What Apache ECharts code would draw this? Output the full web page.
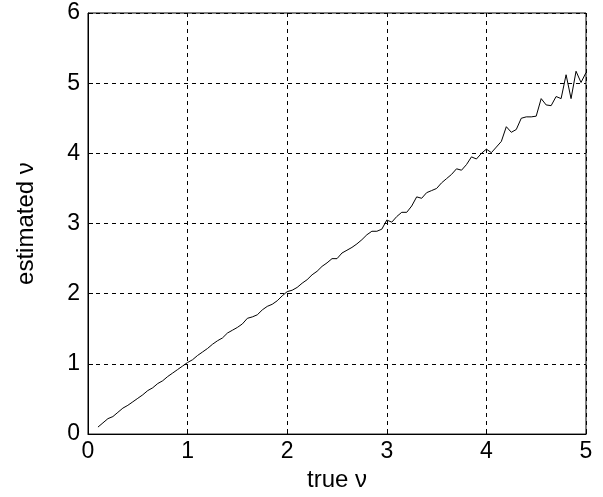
<!DOCTYPE html>
<html>
<head>
<meta charset="utf-8">
<script src="https://cdn.jsdelivr.net/npm/echarts@6/dist/echarts.min.js"></script>
<style>html,body{margin:0;padding:0;background:#fff;}#c{width:603px;height:497px;}</style>
</head>
<body>
<div id="c"></div>
<script>
var trueNu = [0.10,0.15,0.20,0.25,0.30,0.35,0.40,0.45,0.50,0.55,0.60,0.65,0.70,0.75,0.80,0.85,0.90,0.95,
  1.00,1.05,1.10,1.15,1.20,1.25,1.30,1.35,1.40,1.45,1.50,1.55,1.60,1.65,1.70,1.75,1.80,1.85,1.90,1.95,
  2.00,2.05,2.10,2.15,2.20,2.25,2.30,2.35,2.40,2.45,2.50,2.55,2.60,2.65,2.70,2.75,2.80,2.85,2.90,2.95,
  3.00,3.05,3.10,3.15,3.20,3.25,3.30,3.35,3.40,3.45,3.50,3.55,3.60,3.65,3.70,3.75,3.80,3.85,3.90,3.95,
  4.00,4.05,4.10,4.15,4.20,4.25,4.30,4.35,4.40,4.45,4.50,4.55,4.60,4.65,4.70,4.75,4.80,4.85,4.90,4.95,5.00];
var estimatedNu = [0.10,0.16,0.22,0.25,0.31,0.37,0.41,0.46,0.51,0.56,0.62,0.66,0.72,0.76,0.82,0.87,0.92,0.97,
  1.02,1.06,1.12,1.17,1.22,1.28,1.33,1.37,1.44,1.48,1.52,1.57,1.65,1.67,1.70,1.77,1.82,1.85,1.90,1.97,
  2.03,2.05,2.09,2.15,2.20,2.27,2.32,2.39,2.44,2.50,2.50,2.58,2.62,2.66,2.71,2.77,2.84,2.89,2.89,2.92,
  3.05,3.02,3.10,3.16,3.16,3.25,3.38,3.36,3.44,3.47,3.50,3.58,3.64,3.70,3.78,3.76,3.84,3.95,3.92,4.00,
  4.06,4.01,4.09,4.17,4.38,4.30,4.34,4.50,4.52,4.52,4.53,4.78,4.69,4.68,4.81,4.78,5.12,4.78,5.17,5.01,5.15];
var xTicks = [0,1,2,3,4,5];
var yTicks = [0,1,2,3,4,5,6];
var xLabel = 'true \u03bd';
var yLabel = 'estimated \u03bd';

var points = trueNu.map(function(x,i){return [x, estimatedNu[i]];});
var font = "'Liberation Sans', Arial, sans-serif";
var chart = echarts.init(document.getElementById('c'), null, {renderer:'canvas'});
var gridLine = {show:true, lineStyle:{color:'#000', type:[4,4], width:1}};
chart.setOption({
  animation:false,
  backgroundColor:'#fff',
  grid:{left:88, top:13, right:17, bottom:51, show:true, borderColor:'#000', borderWidth:1, backgroundColor:'transparent'},
  xAxis:{type:'value', min:xTicks[0], max:xTicks[xTicks.length-1], interval:1,
    name:xLabel, nameLocation:'middle', nameGap:27,
    nameTextStyle:{color:'#000', fontSize:24, fontFamily:font},
    axisLine:{show:true, lineStyle:{color:'#000', width:1}},
    axisTick:{show:true, inside:true, length:5, lineStyle:{color:'#000'}},
    axisLabel:{color:'#000', fontSize:23, fontFamily:font, margin:6},
    splitLine:gridLine},
  yAxis:{type:'value', min:yTicks[0], max:yTicks[yTicks.length-1], interval:1,
    name:yLabel, nameLocation:'middle', nameGap:50,
    nameTextStyle:{color:'#000', fontSize:24, fontFamily:font},
    axisLine:{show:true, lineStyle:{color:'#000', width:1}},
    axisTick:{show:true, inside:true, length:5, lineStyle:{color:'#000'}},
    axisLabel:{color:'#000', fontSize:23, fontFamily:font, margin:8},
    splitLine:gridLine},
  series:[{type:'line', data:points, showSymbol:false, symbol:'none',
    lineStyle:{color:'#000', width:1}, silent:true}]
});
</script>
</body>
</html>
